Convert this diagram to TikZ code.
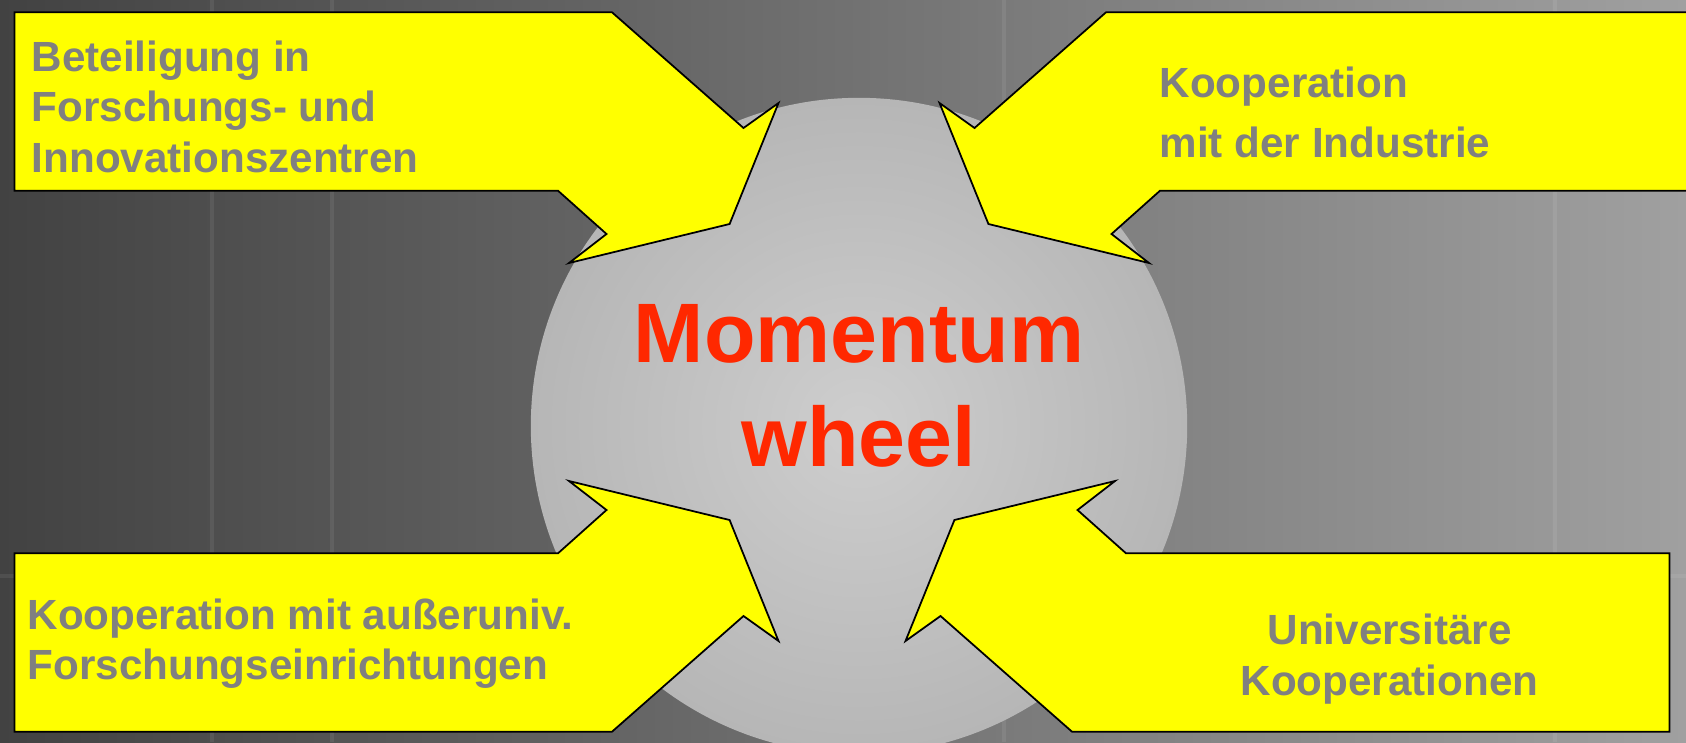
\documentclass[tikz,border=0pt]{standalone}
\usepackage{fontspec}
\setmainfont{Liberation Sans}

\definecolor{bgdark}{RGB}{66,66,66}
\definecolor{bglight}{RGB}{160,160,160}
\definecolor{wheelin}{RGB}{206,206,206}
\definecolor{wheelout}{RGB}{182,182,182}
\definecolor{calloutyellow}{RGB}{255,255,0}
\definecolor{labelgray}{RGB}{128,128,128}
\definecolor{wheelred}{RGB}{255,40,0}

\tikzset{
  callout/.style={draw=black,line width=0.5pt,fill=calloutyellow,line join=miter},
  calltext/.style={text=labelgray,inner sep=0pt,font=\bfseries\fontsize{12}{14.4}\selectfont},
  wheeltext/.style={text=wheelred,inner sep=0pt,align=center,anchor=north,
    font=\bfseries\fontsize{24}{29.5}\selectfont},
  gridline/.style={white,opacity=0.07,line width=0.04cm}
}

% one callout arrow, pointing to the wheel from the upper left
\newcommand\callout[1]{%
  \draw[callout,#1] (14.5,12.3) -- (612,12.3) -- (743.5,128) -- (778.5,103)
    -- (729.6,224) -- (569,263) -- (606.5,234) -- (558,190.7) -- (14.5,190.7) -- cycle;}

\begin{document}
\begin{tikzpicture}[x=0.01cm,y=-0.01cm]
\useasboundingbox (0,0) rectangle (1686,742);
\clip (0,0) rectangle (1686,742);
% ---- background ----
\shade[left color=bgdark,right color=bglight] (0,0) rectangle (1686,742);
\foreach \gx in {212,332,1004,1555}
  \draw[gridline] (\gx,0) -- (\gx,742);
\draw[gridline] (0,576) -- (1686,576);
% ---- wheel ----
\shade[inner color=wheelin,outer color=wheelout] (859,426) circle (3.28cm);
\node[wheeltext] (wheel) at (859,303.5) {Momentum\\wheel};
% ---- four callouts ----
\callout{}
\callout{shift={(1718,0)},xscale=-1}
\callout{shift={(0,744)},yscale=-1}
\callout{shift={(1684,744)},xscale=-1,yscale=-1}
\node[calltext,anchor=north west,align=left] (beteiligung) at (31,40)
  {Beteiligung in\\Forschungs- und\\Innovationszentren};
\node[calltext,anchor=north west,align=left] (industrie) at (1159,66)
  {Kooperation\\[2.7pt]mit der Industrie};
\node[calltext,anchor=north west,align=left] (ausseruniv) at (27,598)
  {Kooperation mit außeruniv.\\Forschungseinrichtungen};
\node[calltext,anchor=north,align=center] (universitaer) at (1389.5,613.7)
  {Universitäre\\Kooperationen};
\end{tikzpicture}
\end{document}
